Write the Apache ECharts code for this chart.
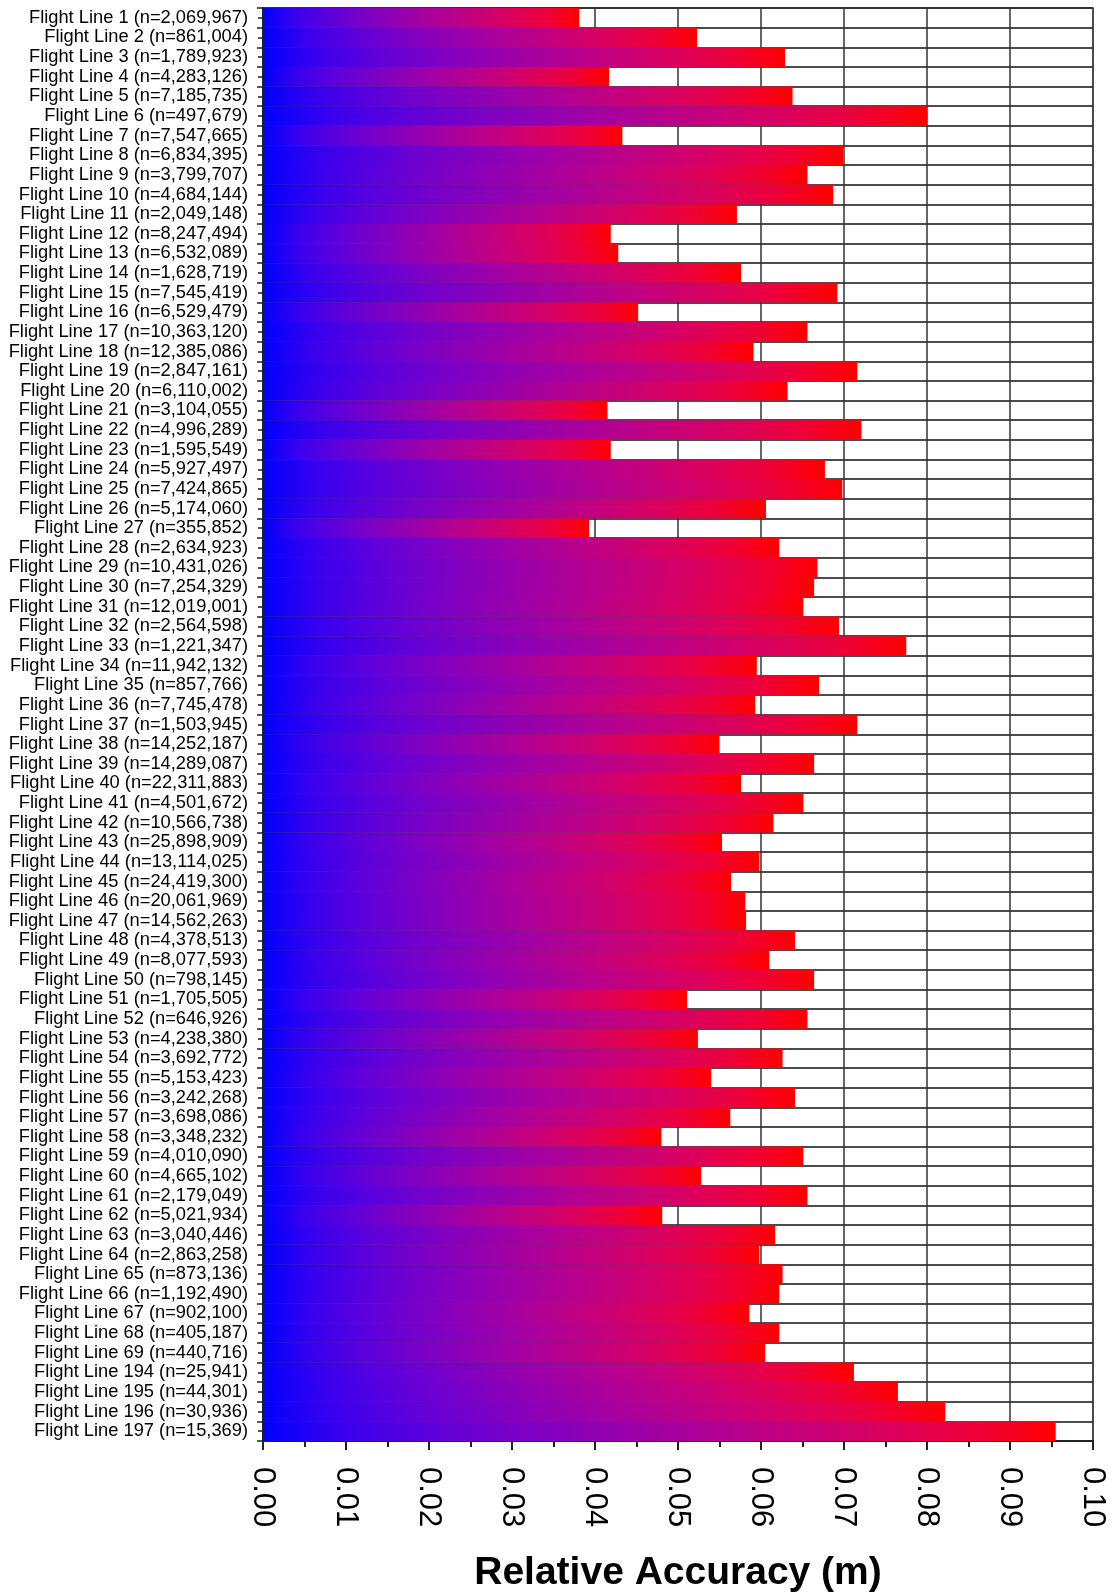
<!DOCTYPE html>
<html>
<head>
<meta charset="utf-8">
<script src="https://cdn.jsdelivr.net/npm/echarts@6/dist/echarts.min.js"></script>
<style>
html,body{margin:0;padding:0;background:#fff;}
#chart{width:1109px;height:1593px;}
</style>
</head>
<body>
<div id="chart"></div>
<script>
const lineIds = [1,2,3,4,5,6,7,8,9,10,11,12,13,14,15,16,17,18,19,20,21,22,23,24,25,26,27,28,29,30,31,32,33,34,35,36,37,38,39,40,41,42,43,44,45,46,47,48,49,50,51,52,53,54,55,56,57,58,59,60,61,62,63,64,65,66,67,68,69,194,195,196,197];
const pointCounts = ['2,069,967','861,004','1,789,923','4,283,126','7,185,735','497,679','7,547,665','6,834,395','3,799,707','4,684,144',
 '2,049,148','8,247,494','6,532,089','1,628,719','7,545,419','6,529,479','10,363,120','12,385,086','2,847,161','6,110,002',
 '3,104,055','4,996,289','1,595,549','5,927,497','7,424,865','5,174,060','355,852','2,634,923','10,431,026','7,254,329',
 '12,019,001','2,564,598','1,221,347','11,942,132','857,766','7,745,478','1,503,945','14,252,187','14,289,087','22,311,883',
 '4,501,672','10,566,738','25,898,909','13,114,025','24,419,300','20,061,969','14,562,263','4,378,513','8,077,593','798,145',
 '1,705,505','646,926','4,238,380','3,692,772','5,153,423','3,242,268','3,698,086','3,348,232','4,010,090','4,665,102',
 '2,179,049','5,021,934','3,040,446','2,863,258','873,136','1,192,490','902,100','405,187','440,716',
 '25,941','44,301','30,936','15,369'];
const accuracy = [0.0381,0.0523,0.0629,0.0417,0.0638,0.0800,0.0433,0.0699,0.0656,0.0687,
 0.0571,0.0419,0.0428,0.0576,0.0692,0.0452,0.0656,0.0591,0.0716,0.0632,
 0.0415,0.0721,0.0419,0.0677,0.0698,0.0606,0.0393,0.0622,0.0668,0.0664,
 0.0651,0.0694,0.0775,0.0595,0.0670,0.0593,0.0716,0.0550,0.0664,0.0576,
 0.0651,0.0615,0.0553,0.0598,0.0564,0.0581,0.0582,0.0641,0.0610,0.0664,
 0.0511,0.0656,0.0524,0.0626,0.0540,0.0641,0.0563,0.0480,0.0651,0.0528,
 0.0656,0.0481,0.0617,0.0598,0.0626,0.0622,0.0586,0.0622,0.0605,
 0.0712,0.0765,0.0822,0.0955];
const xTicks = ['0.00','0.01','0.02','0.03','0.04','0.05','0.06','0.07','0.08','0.09','0.10'];

const categories = lineIds.map((id, i) => 'Flight Line ' + id + ' (n=' + pointCounts[i] + ')');

// blue -> red gradient along each bar
const stops = [];
for (let k = 0; k <= 10; k++) {
  const t = k / 10;
  const r = Math.round(255 * Math.pow(t, 0.65));
  const b = Math.round(255 * Math.pow(1 - t, 0.65));
  stops.push({ offset: t, color: 'rgb(' + r + ',0,' + b + ')' });
}
const barColor = new echarts.graphic.LinearGradient(0, 0, 1, 0, stops);

const chart = echarts.init(document.getElementById('chart'), null, { renderer: 'canvas' });
const font = '"Liberation Sans", Arial, Helvetica, sans-serif';
chart.setOption({
  backgroundColor: '#fff',
  animation: false,
  textStyle: { fontFamily: font },
  grid: { left: 263, right: 16, top: 8, bottom: 152, containLabel: false,
          outerBoundsMode: 'none',
          show: true, borderColor: '#999', borderWidth: 2 },
  xAxis: {
    type: 'value', min: 0, max: 0.1, interval: 0.01,
    position: 'bottom',
    name: 'Relative Accuracy (m)', nameLocation: 'middle', nameGap: 113,
    nameTextStyle: { fontSize: 39, fontWeight: 'bold', color: '#000', fontFamily: font },
    axisLine: { show: true, onZero: false, lineStyle: { color: '#222', width: 2 } },
    axisTick: { show: true, inside: false, length: 9, lineStyle: { color: '#222', width: 2 } },
    minorTick: { show: true, splitNumber: 2, length: 6, lineStyle: { color: '#222', width: 2 } },
    axisLabel: { rotate: -90, margin: 26, fontSize: 31, color: '#000', fontFamily: font,
                 formatter: (v) => xTicks[Math.round(v * 100)] },
    splitLine: { show: true, lineStyle: { color: '#333', width: 1.5 } }
  },
  yAxis: [{
    type: 'category', data: categories, inverse: true,
    axisLine: { show: true, lineStyle: { color: '#222', width: 2 } },
    axisTick: { show: true, length: 6, lineStyle: { color: '#222', width: 1.5 } },
    axisLabel: { fontSize: 18.3, color: '#000', margin: 15, interval: 0, fontFamily: font,
                 padding: [3, 0, 0, 0] },
    splitLine: { show: true, interval: 0, lineStyle: { color: '#111', width: 1.5 } }
  }, {
    type: 'category', data: categories, inverse: true, position: 'left',
    axisLine: { show: false },
    axisTick: { show: true, alignWithLabel: true, interval: 0, length: 5, lineStyle: { color: '#222', width: 1.5 } },
    axisLabel: { show: false },
    splitLine: { show: false }
  }],
  series: [{
    type: 'bar',
    yAxisIndex: 0,
    data: accuracy,
    barCategoryGap: '0%',
    itemStyle: { color: barColor },
    z: 3
  }]
});
</script>
</body>
</html>
